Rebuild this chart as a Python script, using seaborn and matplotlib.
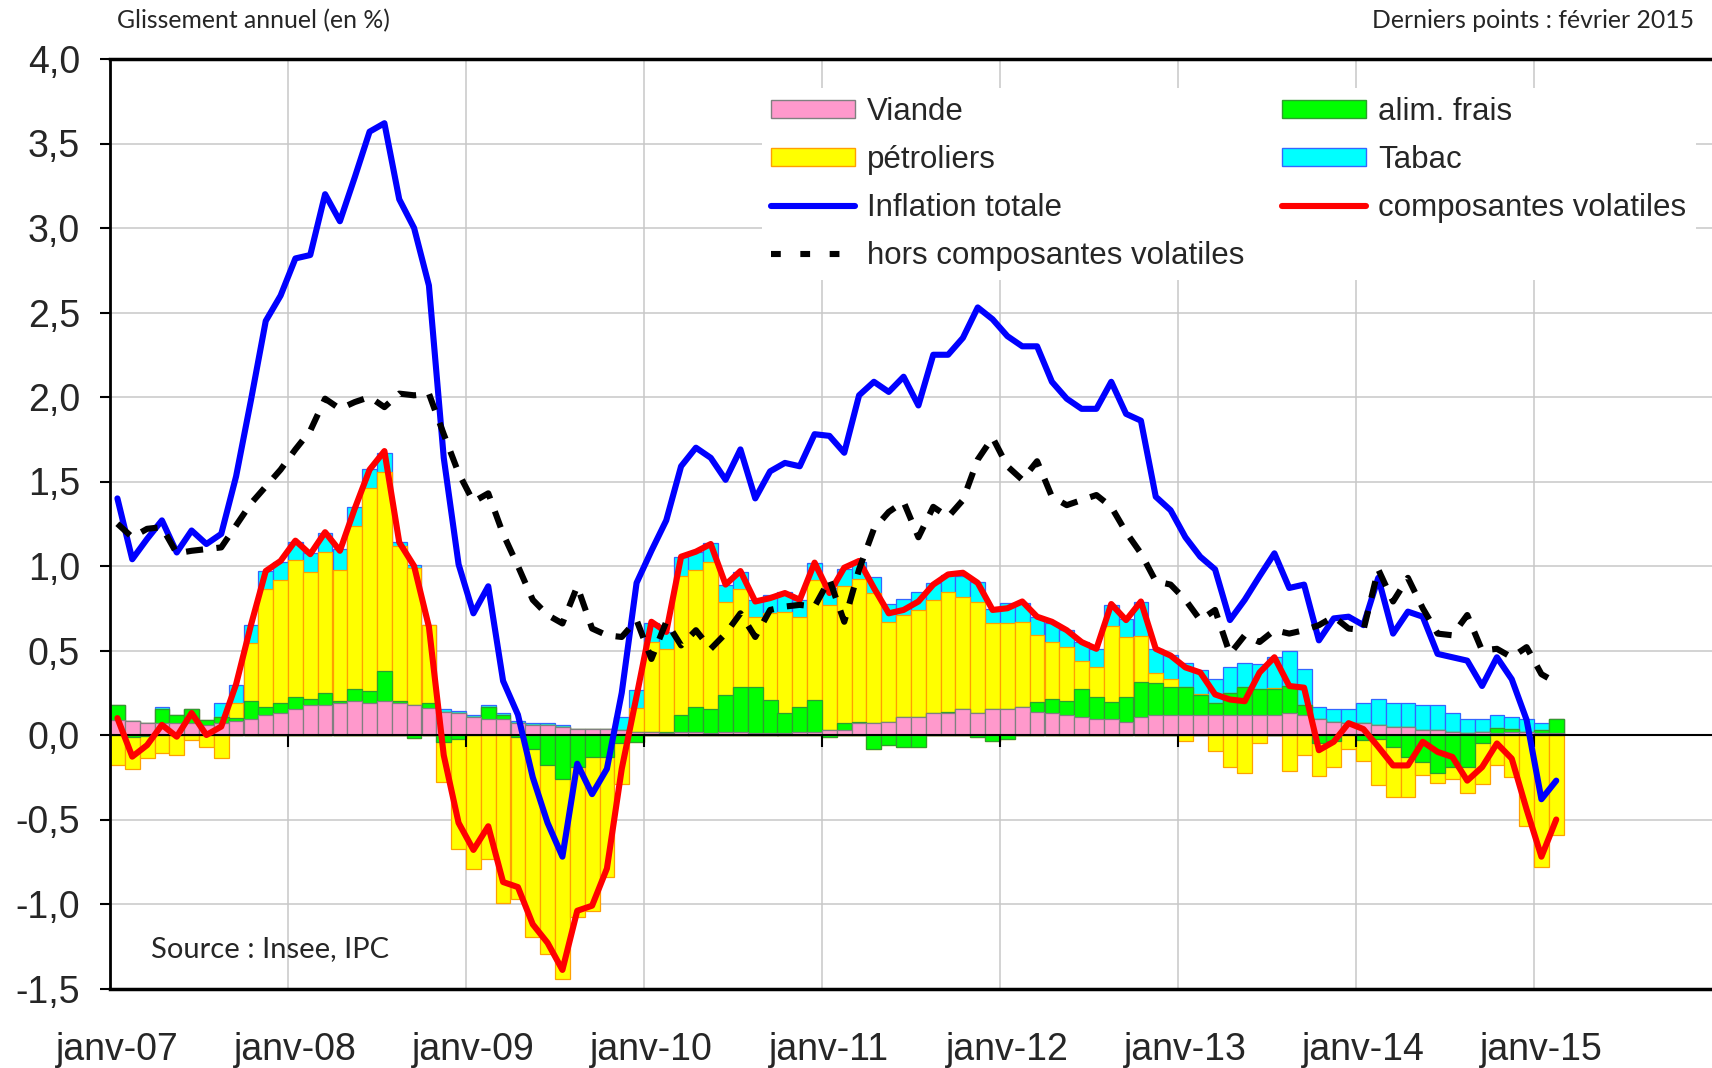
import numpy as np
import pandas as pd
import matplotlib
matplotlib.use("Agg")
import matplotlib.pyplot as plt
import seaborn as sns
from matplotlib.patches import Patch
from matplotlib.lines import Line2D

# ---------------- data (monthly, janv-07 .. févr-15) ----------------
months = [f"{y}-{m:02d}" for y in range(2007, 2016) for m in range(1, 13)][:98]

tick_labels = ["janv-07", "janv-08", "janv-09", "janv-10", "janv-11",
               "janv-12", "janv-13", "janv-14", "janv-15"]

viande = [0.09, 0.085, 0.073, 0.073, 0.073, 0.073, 0.057, 0.073, 0.083, 0.097,
          0.116, 0.132, 0.156, 0.178, 0.178, 0.19, 0.20, 0.19, 0.20, 0.19,
          0.178, 0.162, 0.138, 0.132, 0.108, 0.093, 0.093, 0.073, 0.059, 0.059,
          0.049, 0.034, 0.034, 0.034, 0.03, 0.02, 0.015, 0.01, 0.02, 0.02,
          0.01, 0.02, 0.02, 0.01, 0.01, 0.01, 0.02, 0.02, 0.03, 0.03,
          0.069, 0.069, 0.079, 0.105, 0.105, 0.128, 0.128, 0.152, 0.128, 0.152,
          0.152, 0.164, 0.138, 0.128, 0.116, 0.105, 0.093, 0.093, 0.079, 0.105,
          0.116, 0.116, 0.116, 0.116, 0.116, 0.116, 0.116, 0.116, 0.116, 0.128,
          0.116, 0.095, 0.079, 0.069, 0.069, 0.059, 0.045, 0.045, 0.03, 0.03,
          0.02, 0.01, 0.02, 0.014, 0.02, 0.02, 0.01, 0.01]

alim_frais = [0.085, -0.01, -0.005, 0.083, 0.045, 0.079, 0.03, 0.034, 0.02, 0.105,
              0.049, 0.055, 0.069, 0.034, 0.073, 0.01, 0.073, 0.069, 0.178, 0.01,
              -0.02, 0.026, -0.04, -0.026, 0.0, 0.075, 0.026, -0.014, -0.085, -0.178,
              -0.262, -0.187, -0.128, -0.128, -0.05, -0.04, 0.005, 0.01, 0.099, 0.144,
              0.142, 0.217, 0.262, 0.272, 0.20, 0.118, 0.144, 0.19, -0.014, 0.04,
              0.01, -0.085, -0.06, -0.07, -0.07, 0.0, 0.01, 0.0, -0.01, -0.034,
              -0.026, 0.0, 0.059, 0.083, 0.085, 0.166, 0.13, 0.105, 0.144, 0.211,
              0.193, 0.168, 0.168, 0.118, 0.075, 0.134, 0.168, 0.154, 0.154, 0.162,
              0.061, -0.045, -0.034, 0.0, -0.03, -0.026, -0.073, -0.132, -0.158, -0.223,
              -0.19, -0.19, -0.05, 0.03, 0.014, 0.0, 0.02, 0.083]

petroliers = [-0.178, -0.19, -0.13, -0.105, -0.118, -0.032, -0.069, -0.138, 0.085, 0.34,
              0.70, 0.73, 0.81, 0.754, 0.834, 0.776, 0.966, 1.205, 1.18, 0.92,
              0.808, 0.463, -0.237, -0.65, -0.795, -0.735, -0.996, -0.958, -1.11, -1.12,
              -1.18, -0.89, -0.915, -0.71, -0.24, 0.14, 0.53, 0.487, 0.822, 0.813,
              0.874, 0.552, 0.58, 0.414, 0.509, 0.60, 0.533, 0.706, 0.74, 0.813,
              0.842, 0.77, 0.59, 0.606, 0.635, 0.67, 0.71, 0.663, 0.66, 0.509,
              0.509, 0.507, 0.394, 0.341, 0.32, 0.164, 0.178, 0.448, 0.355, 0.27,
              0.055, 0.045, -0.036, 0.008, -0.095, -0.19, -0.223, -0.045, 0.01, -0.213,
              -0.118, -0.20, -0.158, -0.085, -0.122, -0.27, -0.296, -0.237, -0.079, -0.063,
              -0.071, -0.154, -0.237, -0.178, -0.25, -0.54, -0.78, -0.59]

tabac = [0.0, 0.0, 0.0, 0.01, 0.0, 0.0, 0.0, 0.085, 0.108, 0.108,
         0.105, 0.108, 0.108, 0.108, 0.108, 0.122, 0.108, 0.108, 0.108, 0.024,
         0.02, 0.0, 0.014, 0.01, 0.01, 0.01, 0.01, 0.012, 0.01, 0.01,
         0.008, 0.0, 0.0, 0.0, 0.075, 0.107, 0.11, 0.104, 0.114, 0.108,
         0.108, 0.099, 0.105, 0.103, 0.108, 0.118, 0.103, 0.099, 0.099, 0.099,
         0.105, 0.095, 0.108, 0.093, 0.108, 0.099, 0.099, 0.126, 0.118, 0.083,
         0.118, 0.108, 0.108, 0.108, 0.10, 0.118, 0.107, 0.124, 0.107, 0.203,
         0.146, 0.142, 0.144, 0.144, 0.142, 0.154, 0.144, 0.148, 0.183, 0.207,
         0.215, 0.071, 0.073, 0.083, 0.118, 0.152, 0.142, 0.142, 0.148, 0.148,
         0.108, 0.083, 0.073, 0.073, 0.071, 0.073, 0.04, 0.0]

inflation_totale = [1.40, 1.04, 1.16, 1.27, 1.08, 1.21, 1.13, 1.19, 1.53, 1.98,
                    2.45, 2.60, 2.82, 2.84, 3.20, 3.04, 3.30, 3.57, 3.62, 3.17,
                    3.00, 2.66, 1.64, 1.01, 0.72, 0.88, 0.32, 0.12, -0.25, -0.52,
                    -0.72, -0.17, -0.35, -0.20, 0.25, 0.90, 1.09, 1.27, 1.59, 1.70,
                    1.64, 1.51, 1.69, 1.40, 1.56, 1.61, 1.59, 1.78, 1.77, 1.67,
                    2.01, 2.09, 2.03, 2.12, 1.95, 2.25, 2.25, 2.35, 2.53, 2.46,
                    2.36, 2.30, 2.30, 2.09, 1.99, 1.93, 1.93, 2.09, 1.90, 1.86,
                    1.41, 1.33, 1.17, 1.055, 0.98, 0.68, 0.80, 0.94, 1.075, 0.87,
                    0.89, 0.56, 0.69, 0.70, 0.65, 0.93, 0.60, 0.73, 0.70, 0.48,
                    0.46, 0.44, 0.29, 0.46, 0.33, 0.09, -0.38, -0.27]

composantes_volatiles = [0.10, -0.128, -0.06, 0.06, -0.01, 0.13, 0.0, 0.05, 0.30, 0.65,
                         0.97, 1.03, 1.15, 1.07, 1.20, 1.09, 1.34, 1.57, 1.68, 1.14,
                         1.00, 0.64, -0.12, -0.52, -0.68, -0.54, -0.87, -0.90, -1.12, -1.23,
                         -1.39, -1.04, -1.01, -0.79, -0.20, 0.23, 0.67, 0.61, 1.055, 1.085,
                         1.13, 0.89, 0.97, 0.79, 0.81, 0.84, 0.80, 1.02, 0.84, 0.99,
                         1.03, 0.87, 0.72, 0.74, 0.79, 0.89, 0.95, 0.96, 0.90, 0.74,
                         0.75, 0.79, 0.70, 0.67, 0.62, 0.55, 0.51, 0.775, 0.68, 0.79,
                         0.51, 0.47, 0.40, 0.37, 0.24, 0.21, 0.20, 0.37, 0.46, 0.29,
                         0.28, -0.09, -0.04, 0.07, 0.035, -0.07, -0.18, -0.18, -0.04, -0.10,
                         -0.13, -0.27, -0.19, -0.05, -0.14, -0.44, -0.72, -0.50]

hors_volatiles = [1.25, 1.17, 1.22, 1.23, 1.075, 1.09, 1.10, 1.11, 1.24, 1.37,
                  1.47, 1.57, 1.69, 1.80, 1.99, 1.93, 1.97, 2.00, 1.94, 2.02,
                  2.01, 2.02, 1.78, 1.55, 1.38, 1.43, 1.19, 1.00, 0.80, 0.71,
                  0.66, 0.88, 0.63, 0.59, 0.58, 0.68, 0.45, 0.67, 0.53, 0.62,
                  0.51, 0.60, 0.72, 0.58, 0.74, 0.76, 0.77, 0.76, 0.92, 0.67,
                  0.98, 1.22, 1.32, 1.38, 1.17, 1.35, 1.29, 1.39, 1.63, 1.76,
                  1.59, 1.51, 1.62, 1.41, 1.36, 1.39, 1.42, 1.35, 1.20, 1.075,
                  0.91, 0.89, 0.80, 0.68, 0.74, 0.48, 0.59, 0.55, 0.62, 0.60,
                  0.62, 0.65, 0.70, 0.63, 0.62, 0.98, 0.79, 0.93, 0.75, 0.60,
                  0.59, 0.71, 0.50, 0.51, 0.46, 0.52, 0.36, 0.31]

# ---------------- styling ----------------
sns.set_theme(style="white")
plt.rcParams['font.family'] = ['Liberation Sans', 'DejaVu Sans']

W_PX, H_PX = 1712, 1068
fig = plt.figure(figsize=(W_PX / 100, H_PX / 100), dpi=100)
ax_left, ax_right, ax_top, ax_bot = 110, 1712, 59, 988.5
ax = fig.add_axes([ax_left / W_PX, 1 - ax_bot / H_PX,
                   (ax_right - ax_left) / W_PX, (ax_bot - ax_top) / H_PX])

n = len(months)
x = np.arange(n)

df = pd.DataFrame({"x": x, "viande": viande, "alim": alim_frais,
                   "petrol": petroliers, "tabac": tabac,
                   "tot": inflation_totale, "vol": composantes_volatiles,
                   "hors": hors_volatiles})

pos = lambda s: np.clip(np.asarray(s, float), 0, None)
neg = lambda s: np.clip(np.asarray(s, float), None, 0)

C_PINK, E_PINK = "#FF99CC", "#808080"
C_GREEN, E_GREEN = "#00FF00", "#2E9E2E"
C_YEL, E_YEL = "#FFFF00", "#FFA000"
C_CYAN, E_CYAN = "#00FFFF", "#3366FF"

# cumulative stacks (positive above zero, negative below), drawn top layer first
p_pos, g_pos, y_pos, c_pos = pos(viande), pos(alim_frais), pos(petroliers), pos(tabac)
p_neg, g_neg, y_neg = neg(viande), neg(alim_frais), neg(petroliers)

layers = [
    (p_pos + g_pos + y_pos + c_pos, C_CYAN, E_CYAN),
    (p_pos + g_pos + y_pos, C_YEL, E_YEL),
    (p_pos + g_pos, C_GREEN, E_GREEN),
    (p_pos, C_PINK, E_PINK),
    (p_neg + g_neg + y_neg, C_YEL, E_YEL),
    (p_neg + g_neg, C_GREEN, E_GREEN),
]
for heights, fc, ec in layers:
    sns.barplot(x=x, y=heights, native_scale=True, width=1.0, color=fc,
                saturation=1, edgecolor=ec, linewidth=0.9, errorbar=None,
                ax=ax, zorder=2)

# zero axis line with tick marks at each January boundary
jan_pos = x[::12]
boundaries = jan_pos[1:] - 0.5
ax.axhline(0, color="black", lw=1.5, zorder=3)
ax.vlines(boundaries, -0.07, 0, color="black", lw=1.5, zorder=3)

# lines
lw = 4.4
sns.lineplot(data=df, x="x", y="tot", color="#0000FF", linewidth=lw,
             errorbar=None, ax=ax, zorder=5, solid_joinstyle="round")
sns.lineplot(data=df, x="x", y="vol", color="#FF0000", linewidth=lw,
             errorbar=None, ax=ax, zorder=6, solid_joinstyle="round")
sns.lineplot(data=df, x="x", y="hors", color="black", linewidth=lw,
             linestyle=(0, (2.8, 2.2)), errorbar=None, ax=ax, zorder=7,
             dash_capstyle="butt")

# axes limits / ticks / grid
ax.set_xlim(-0.5, 107.5)
ax.set_ylim(-1.5, 4.0)
yt = np.arange(-1.5, 4.01, 0.5)
ax.set_yticks(yt)
ax.set_yticklabels([f"{v:.1f}".replace(".", ",") for v in yt])
ax.set_xticks(jan_pos)
ax.set_xticklabels(tick_labels)
ax.set_xticks(boundaries, minor=True)
ax.set_xlabel("")
ax.set_ylabel("")

ax.set_axisbelow(True)
ax.yaxis.grid(True, color="#C8C8C8", lw=1.1)
ax.xaxis.grid(True, which="minor", color="#C8C8C8", lw=1.1)
ax.xaxis.grid(False, which="major")

ax.tick_params(axis="y", which="major", direction="out", length=7.5, width=1.5,
               color="black", pad=14, labelsize=27, left=True)
ax.tick_params(axis="x", which="major", length=0, pad=31, labelsize=27)
ax.tick_params(axis="x", which="minor", length=0)

for side in ["left", "bottom", "top"]:
    ax.spines[side].set_visible(True)
    ax.spines[side].set_color("black")
ax.spines["left"].set_linewidth(2)
ax.spines["bottom"].set_linewidth(2.5)
ax.spines["top"].set_linewidth(2.5)
ax.spines["right"].set_visible(False)

# legend (column-major order for 2 columns)
h_viande = Patch(facecolor=C_PINK, edgecolor=E_PINK, lw=1)
h_alim = Patch(facecolor=C_GREEN, edgecolor=E_GREEN, lw=1)
h_petrol = Patch(facecolor=C_YEL, edgecolor=E_YEL, lw=1)
h_tabac = Patch(facecolor=C_CYAN, edgecolor=E_CYAN, lw=1)
h_tot = Line2D([], [], color="#0000FF", lw=lw)
h_vol = Line2D([], [], color="#FF0000", lw=lw)
h_hors = Line2D([], [], color="black", lw=lw, linestyle=(0, (1.6, 3.2)),
                dash_capstyle="butt")
handles = [h_viande, h_petrol, h_tot, h_hors, h_alim, h_tabac, h_vol]
labels = ["Viande", "pétroliers", "Inflation totale", "hors composantes volatiles",
          "alim. frais", "Tabac", "composantes volatiles"]
leg = ax.legend(handles, labels, ncol=2, loc="upper left",
                bbox_to_anchor=(762 / W_PX, 1 - 88 / H_PX),
                bbox_transform=fig.transFigure, frameon=True,
                facecolor="white", edgecolor="none", framealpha=1,
                fontsize=22.5, handlelength=2.68, handleheight=0.5,
                handletextpad=0.39, columnspacing=1.2, labelspacing=0.57,
                borderpad=0.3, borderaxespad=0)
leg.set_zorder(10)

# annotations
fig.text(117 / W_PX, 1 - 21 / H_PX, "Glissement annuel (en %)", ha="left",
         va="center", fontsize=17.8, family=["Lato", "DejaVu Sans"])
fig.text(1694 / W_PX, 1 - 21 / H_PX, "Derniers points : février 2015", ha="right",
         va="center", fontsize=17.8, family=["Lato", "DejaVu Sans"])
fig.text(151 / W_PX, 1 - 949 / H_PX, "Source : Insee, IPC", ha="left",
         va="center", fontsize=21, family=["Lato", "DejaVu Sans"], zorder=10)

fig.savefig("out.png", dpi=100, facecolor="white")
